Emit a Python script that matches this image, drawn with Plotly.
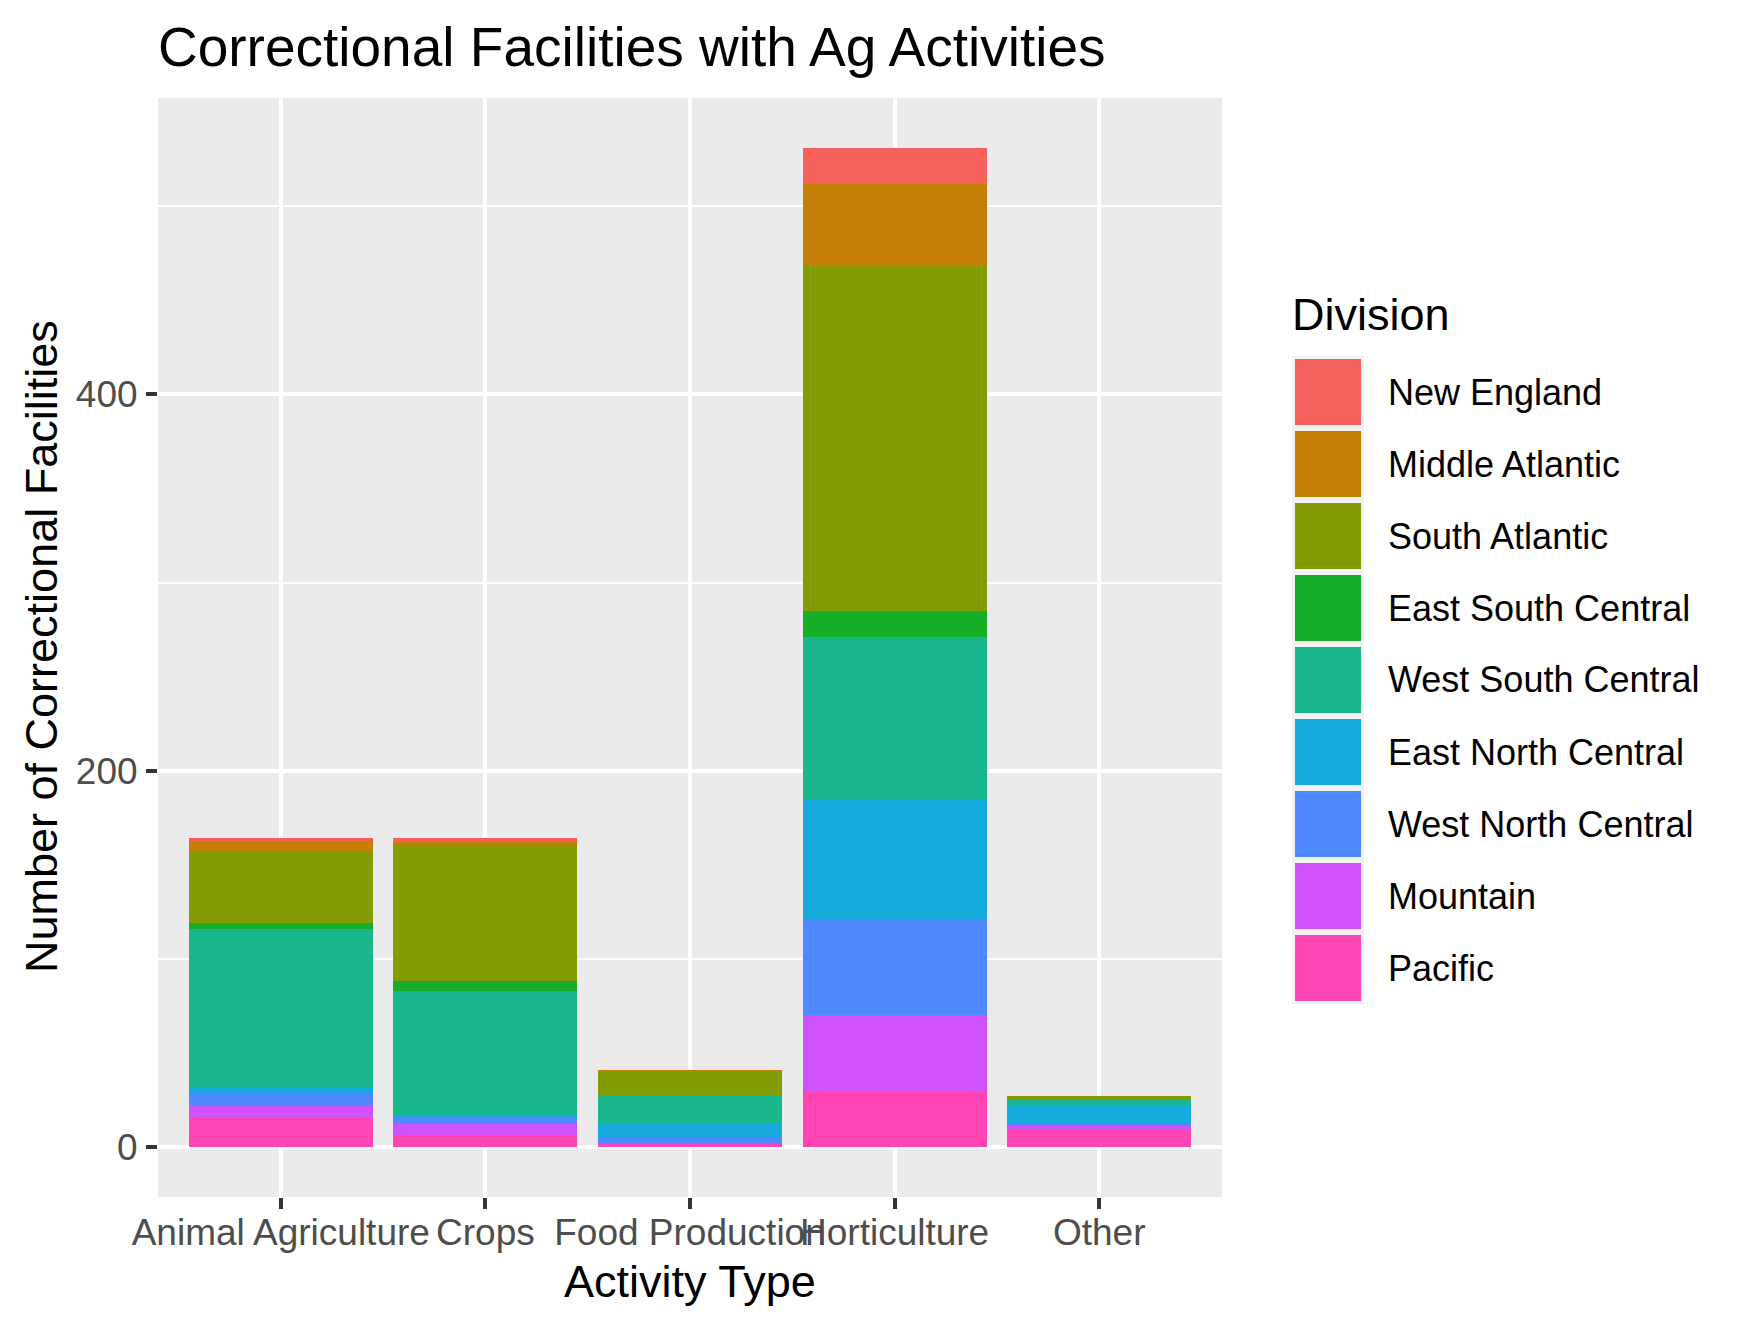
import plotly.graph_objects as go

categories = ["Animal Agriculture", "Crops", "Food Production", "Horticulture", "Other"]
divisions = ["New England", "Middle Atlantic", "South Atlantic", "East South Central",
             "West South Central", "East North Central", "West North Central", "Mountain", "Pacific"]
colors = ["#F5625E", "#C67F06", "#849C04", "#17AF2A", "#1AB78E", "#16ABDC", "#4F88FF", "#D052FA", "#FF45B4"]

# values per division, order matches categories
pacific = [16, 6, 2, 30, 9]
mountain = [6, 6, 0, 40, 2]
west_north_central = [6, 4, 3, 51, 2]
east_north_central = [4, 1, 8, 64, 9]
west_south_central = [84, 66, 14, 86, 3]
east_south_central = [3, 5, 0, 14, 0]
south_atlantic = [38, 73, 13, 183, 2]
middle_atlantic = [6, 1, 1, 44, 0]
new_england = [1, 2, 0, 19, 0]

series = {
    "Pacific": pacific,
    "Mountain": mountain,
    "West North Central": west_north_central,
    "East North Central": east_north_central,
    "West South Central": west_south_central,
    "East South Central": east_south_central,
    "South Atlantic": south_atlantic,
    "Middle Atlantic": middle_atlantic,
    "New England": new_england,
}
color_of = dict(zip(divisions, colors))

OFF = 8  # page body margin
W, H = 1750 - OFF, 1329 - OFF
L, R, T, B = 158 - OFF, 1222 - OFF, 98 - OFF, 1197 - OFF
FONT = "Liberation Sans, Arial, Helvetica, sans-serif"

fig = go.Figure()
for name in ["Pacific", "Mountain", "West North Central", "East North Central",
             "West South Central", "East South Central", "South Atlantic",
             "Middle Atlantic", "New England"]:
    fig.add_trace(go.Bar(x=categories, y=series[name], name=name, width=0.9,
                         marker=dict(color=color_of[name], line=dict(width=0)),
                         showlegend=False))

totals = [sum(v[i] for v in series.values()) for i in range(len(categories))]
ymax = max(totals)
pad = ymax * 0.05

def px_x(p):
    return (p - OFF - L) / (R - L)

def px_y(p):
    return (B - (p - OFF)) / (B - T)

shapes = []
annotations = []
# legend
shapes.append(dict(type="rect", xref="paper", yref="paper",
                   x0=px_x(1292), x1=px_x(1364), y0=px_y(356), y1=px_y(356 + 72 * 9),
                   fillcolor="#F2F2F2", line=dict(width=0), layer="above"))
for i, (d, c) in enumerate(zip(divisions, colors)):
    top = 356 + 72 * i + 3
    shapes.append(dict(type="rect", xref="paper", yref="paper",
                       x0=px_x(1295), x1=px_x(1361), y0=px_y(top), y1=px_y(top + 66),
                       fillcolor=c, line=dict(width=0), layer="above"))
    annotations.append(dict(text=d, xref="paper", yref="paper", x=px_x(1386), y=px_y(top + 33),
                            xanchor="left", yanchor="middle", showarrow=False,
                            font=dict(size=36, color="black", family=FONT)))
annotations.append(dict(text="Division", xref="paper", yref="paper", x=px_x(1290), y=px_y(314),
                        xanchor="left", yanchor="middle", showarrow=False,
                        font=dict(size=45, color="black", family=FONT)))
# axis titles
annotations.append(dict(text="Activity Type", xref="paper", yref="paper", x=px_x(690), y=px_y(1281),
                        xanchor="center", yanchor="middle", showarrow=False,
                        font=dict(size=45, color="black", family=FONT)))
annotations.append(dict(text="Number of Correctional Facilities", xref="paper", yref="paper",
                        x=px_x(41), y=px_y(647), xanchor="center", yanchor="middle",
                        textangle=-90, showarrow=False,
                        font=dict(size=45, color="black", family=FONT)))

fig.update_layout(
    width=W, height=H,
    margin=dict(l=L, r=W - R, t=T, b=H - B, pad=0, autoexpand=False),
    barmode="stack",
    plot_bgcolor="#EBEBEB",
    paper_bgcolor="white",
    font=dict(family=FONT, color="#4D4D4D"),
    title=dict(text="Correctional Facilities with Ag Activities", x=0, xref="paper", xanchor="left",
               y=1 - (47 - OFF) / H, yref="container", yanchor="middle",
               font=dict(size=55, color="black", family=FONT)),
    shapes=shapes,
    annotations=annotations,
    showlegend=False,
    bargap=0.1,
)
fig.update_xaxes(
    type="category", range=[-0.6, len(categories) - 0.4],
    showgrid=True, gridcolor="white", gridwidth=3.5,
    ticks="outside", ticklen=11, tickwidth=3.5, tickcolor="#333333",
    tickfont=dict(size=37, color="#4D4D4D", family=FONT), tickangle=0,
    showline=False, zeroline=False, ticklabelstandoff=-8, automargin=False,
)
fig.update_yaxes(
    range=[-pad, ymax + pad], tickmode="array", tickvals=[0, 200, 400],
    ticktext=["0", "200", "400"],
    showgrid=True, gridcolor="white", gridwidth=3.5,
    minor=dict(tickmode="array", tickvals=[100, 300, 500], showgrid=True, gridcolor="white",
               gridwidth=1.8, ticks=""),
    ticks="outside", ticklen=11, tickwidth=3.5, tickcolor="#333333",
    tickfont=dict(size=37, color="#4D4D4D", family=FONT),
    showline=False, zeroline=False, ticklabelstandoff=1, automargin=False,
)

fig.write_html("out.html")
